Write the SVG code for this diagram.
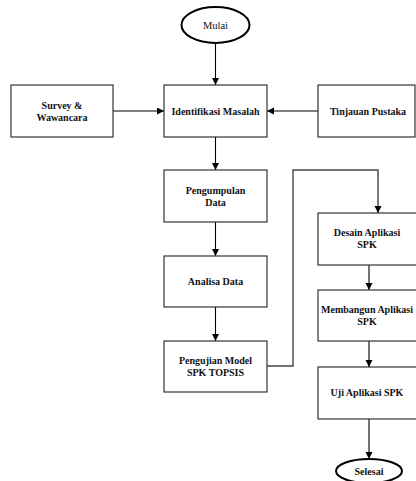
<svg xmlns="http://www.w3.org/2000/svg" width="416" height="481" viewBox="0 0 416 481">
<style>
.box{fill:#fff;stroke:#333;stroke-width:1.2}
.el{fill:#fff;stroke:#000;stroke-width:2}
text{font-family:'Liberation Serif','Times New Roman',serif;fill:#111;text-anchor:middle}
.t{font-size:10px;font-weight:bold}
.tr{font-size:10.5px}
.c{fill:none;stroke:#000;stroke-width:1.1}
.cg{fill:none;stroke:#444;stroke-width:1.4}
</style>
<defs>
<marker id="arr" markerUnits="userSpaceOnUse" markerWidth="8" markerHeight="8" refX="7" refY="3.5" orient="auto">
<path d="M0,0 L7,3.5 L0,7 Z" fill="#000"/>
</marker>
</defs>
<rect width="416" height="481" fill="#fff"/>
<g id="connectors">
<path class="c" d="M215.5,43 V85" marker-end="url(#arr)"/>
<path class="c" d="M113,111 H164" marker-end="url(#arr)"/>
<path class="c" d="M318,111 H267" marker-end="url(#arr)"/>
<path class="c" d="M215.5,137 V170" marker-end="url(#arr)"/>
<path class="c" d="M215.5,222 V256" marker-end="url(#arr)"/>
<path class="c" d="M215.5,307 V341" marker-end="url(#arr)"/>
<path class="cg" d="M267,366 H293 V170 H378 V213" marker-end="url(#arr)"/>
<path class="c" d="M369,265 V290" marker-end="url(#arr)"/>
<path class="c" d="M369,341 V367" marker-end="url(#arr)"/>
<path class="c" d="M369,419 V459" marker-end="url(#arr)"/>
</g>
<g id="mulai" font-family="Liberation Serif">
<ellipse class="el" cx="215.5" cy="25" rx="34" ry="18"/>
<text class="tr" x="215.5" y="28.5">Mulai</text>
</g>
<g id="survey" font-family="Liberation Serif">
<rect class="box" x="11" y="85" width="102" height="52"/>
<text class="t" x="62" y="108.5">Survey &amp;</text>
<text class="t" x="62" y="120.5">Wawancara</text>
</g>
<g id="identifikasi" font-family="Liberation Serif">
<rect class="box" x="164" y="85" width="103" height="52"/>
<text class="t" x="215.5" y="115">Identifikasi Masalah</text>
</g>
<g id="tinjauan" font-family="Liberation Serif">
<rect class="box" x="318" y="85" width="97" height="52"/>
<text class="t" x="368" y="115">Tinjauan Pustaka</text>
</g>
<g id="pengumpulan" font-family="Liberation Serif">
<rect class="box" x="164" y="170" width="103" height="52"/>
<text class="t" x="215.5" y="194">Pengumpulan</text>
<text class="t" x="215.5" y="206">Data</text>
</g>
<g id="analisa" font-family="Liberation Serif">
<rect class="box" x="164" y="256" width="103" height="51"/>
<text class="t" x="215.5" y="285">Analisa Data</text>
</g>
<g id="pengujian" font-family="Liberation Serif">
<rect class="box" x="164" y="341" width="103" height="51"/>
<text class="t" x="215.5" y="364">Pengujian Model</text>
<text class="t" x="215.5" y="376">SPK TOPSIS</text>
</g>
<g id="desain" font-family="Liberation Serif">
<rect class="box" x="318" y="213" width="104" height="52"/>
<text class="t" x="367" y="236">Desain Aplikasi</text>
<text class="t" x="367" y="248">SPK</text>
</g>
<g id="membangun" font-family="Liberation Serif">
<rect class="box" x="318" y="290" width="104" height="51"/>
<text class="t" x="367" y="313">Membangun Aplikasi</text>
<text class="t" x="367" y="325">SPK</text>
</g>
<g id="uji" font-family="Liberation Serif">
<rect class="box" x="318" y="367" width="104" height="52"/>
<text class="t" x="367" y="396">Uji Aplikasi SPK</text>
</g>
<g id="selesai" font-family="Liberation Serif">
<ellipse class="el" cx="369" cy="471" rx="33" ry="12"/>
<text class="t" x="369" y="474.5">Selesai</text>
</g>
</svg>
